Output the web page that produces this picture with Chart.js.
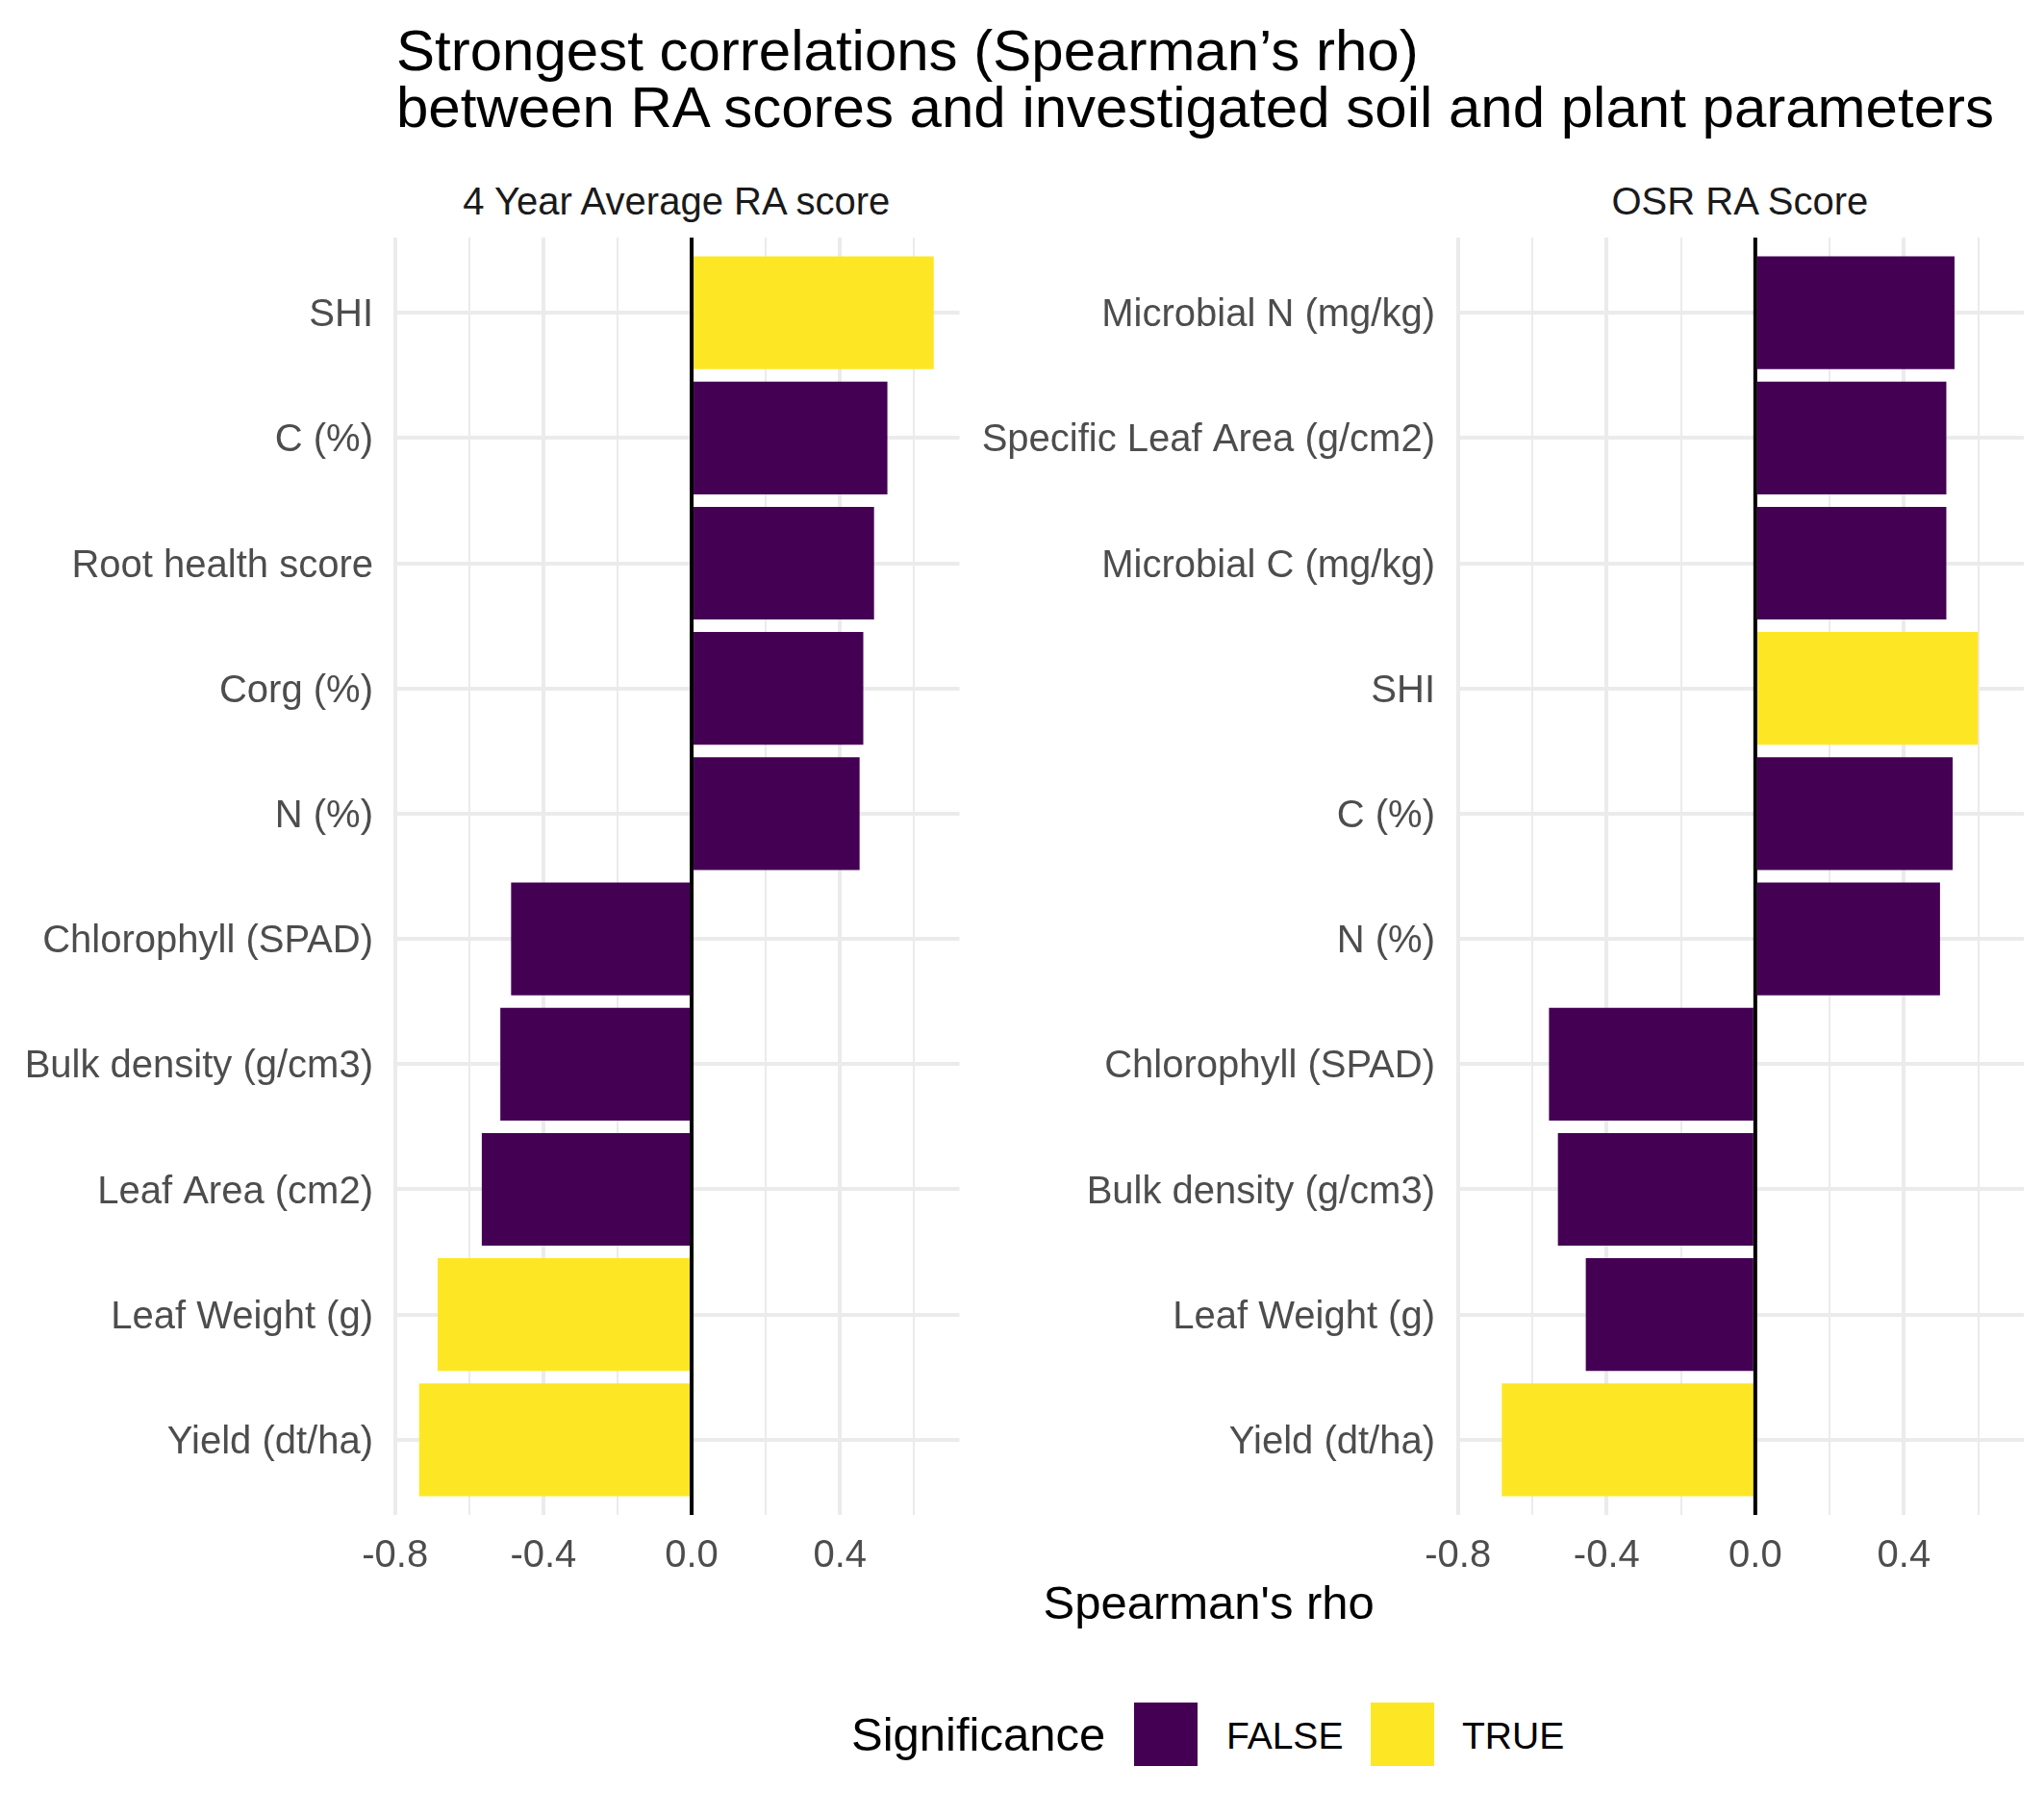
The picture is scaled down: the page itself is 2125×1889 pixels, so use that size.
<!DOCTYPE html>
<html>
<head>
<meta charset="utf-8">
<script src="https://cdn.jsdelivr.net/npm/chart.js@4.4.1/dist/chart.umd.min.js"></script>
<style>
  html, body { margin:0; padding:0; background:#ffffff; }
  #page { position:relative; width:2125px; height:1889px; background:#ffffff; overflow:hidden;
          font-family:"Liberation Sans", Arial, sans-serif; }
  .txt { position:absolute; white-space:nowrap; line-height:1; }
  canvas { position:absolute; top:0; }
  .key { position:absolute; }
</style>
</head>
<body>
<div id="page">
  <div class="txt" id="t1" style="left:412px; top:23px; font-size:60px; color:#000;">Strongest correlations (Spearman’s rho)</div>
  <div class="txt" id="t2" style="left:412px; top:82px; font-size:60px; color:#000;">between RA scores and investigated soil and plant parameters</div>

  <div class="txt" id="s1" style="font-size:40px; color:#1A1A1A; top:189px;"></div>
  <div class="txt" id="s2" style="font-size:40px; color:#1A1A1A; top:189px;"></div>

  <canvas id="c1" width="1010" height="1700" style="left:0px; width:1010px; height:1700px;"></canvas>
  <canvas id="c2" width="1115" height="1700" style="left:1010px; width:1115px; height:1700px;"></canvas>

  <div class="txt" id="xtitle" style="font-size:49px; color:#000; top:1642px;">Spearman's rho</div>

  <div class="txt" style="left:885px; top:1779px; font-size:49px; color:#000;">Significance</div>
  <div class="key" id="k1" style="left:1179px; top:1770px; width:66px; height:66px;"></div>
  <div class="txt" id="l1" style="left:1275px; top:1785px; font-size:39px; color:#000;"></div>
  <div class="key" id="k2" style="left:1425px; top:1770px; width:66px; height:66px;"></div>
  <div class="txt" id="l2" style="left:1520px; top:1785px; font-size:39px; color:#000;"></div>
</div>
<script>
// ---------------- data ----------------
const facetTitles = ['4 Year Average RA score', 'OSR RA Score'];

const categoriesAvg = ['SHI', 'C (%)', 'Root health score', 'Corg (%)', 'N (%)',
  'Chlorophyll (SPAD)', 'Bulk density (g/cm3)', 'Leaf Area (cm2)', 'Leaf Weight (g)', 'Yield (dt/ha)'];
const rhoAvg = [0.653, 0.528, 0.492, 0.463, 0.453, -0.487, -0.516, -0.566, -0.685, -0.735];
const sigAvg = [true, false, false, false, false, false, false, false, true, true];

const categoriesOSR = ['Microbial N (mg/kg)', 'Specific Leaf Area (g/cm2)', 'Microbial C (mg/kg)', 'SHI', 'C (%)',
  'N (%)', 'Chlorophyll (SPAD)', 'Bulk density (g/cm3)', 'Leaf Weight (g)', 'Yield (dt/ha)'];
const rhoOSR = [0.536, 0.514, 0.514, 0.599, 0.531, 0.497, -0.555, -0.531, -0.456, -0.682];
const sigOSR = [false, false, false, true, false, false, false, false, false, true];

const xTickValues = [-0.8, -0.6, -0.4, -0.2, 0.0, 0.2, 0.4, 0.6];
const xTickLabels = ['-0.8', '', '-0.4', '', '0.0', '', '0.4', ''];
const xMajorTicks = [-0.8, -0.4, 0.0, 0.4];

const legendLabels = ['FALSE', 'TRUE'];
const sigColors = { 'FALSE': '#440154', 'TRUE': '#FDE725' };

// ---------------- layout / style ----------------
const FONT = '"Liberation Sans", Arial, sans-serif';
const all = rhoAvg.concat(rhoOSR);
const lo = Math.min(...all), hi = Math.max(...all);
const padX = 0.05 * (hi - lo);
const xMin = lo - padX, xMax = hi + padX;

const zeroLine = {
  id: 'zeroLine',
  afterDatasetsDraw(chart) {
    const { ctx, chartArea, scales } = chart;
    const px = scales.x.getPixelForValue(0);
    ctx.save();
    ctx.strokeStyle = '#000000';
    ctx.lineWidth = 4;
    ctx.beginPath();
    ctx.moveTo(px, chartArea.top);
    ctx.lineTo(px, chartArea.bottom);
    ctx.stroke();
    ctx.restore();
  }
};

function isMajor(v) { return xMajorTicks.some(m => Math.abs(m - v) < 1e-6); }

function makeChart(id, cats, vals, sig, axisWidth, padRight, labelPad) {
  const ctx = document.getElementById(id).getContext('2d');
  return new Chart(ctx, {
    type: 'bar',
    data: {
      datasets: [{
        data: vals.map((v, i) => ({ x: v, y: i })),
        backgroundColor: sig.map(s => sigColors[s ? 'TRUE' : 'FALSE']),
        borderWidth: 0,
        categoryPercentage: 0.9,
        barPercentage: 1.0
      }]
    },
    options: {
      indexAxis: 'y',
      responsive: false,
      animation: false,
      devicePixelRatio: 1,
      layout: { padding: { top: 247, right: padRight, bottom: 0, left: 0 } },
      plugins: { legend: { display: false }, tooltip: { enabled: false } },
      scales: {
        x: {
          type: 'linear',
          min: xMin, max: xMax,
          offset: false,
          afterBuildTicks: s => { s.ticks = xTickValues.map(v => ({ value: v })); },
          afterFit: s => { s.height = 125; },
          grid: {
            color: '#EBEBEB',
            offset: false,
            lineWidth: c => (c.tick && isMajor(c.tick.value)) ? 4 : 2,
            drawTicks: false
          },
          border: { display: false },
          ticks: {
            autoSkip: false, maxRotation: 0, minRotation: 0, padding: 19,
            color: '#4D4D4D',
            font: { family: FONT, size: 40, lineHeight: 1.2 },
            callback: (v) => {
              const k = xTickValues.findIndex(t => Math.abs(t - v) < 1e-6);
              return k >= 0 ? xTickLabels[k] : '';
            }
          }
        },
        y: {
          type: 'linear',
          reverse: true,
          offset: false,
          min: -0.6, max: cats.length - 1 + 0.6,
          afterBuildTicks: s => { s.ticks = cats.map((c, i) => ({ value: i })); },
          afterFit: s => { s.width = axisWidth; },
          grid: { color: '#EBEBEB', lineWidth: 4, drawTicks: false, offset: false },
          border: { display: false },
          ticks: {
            autoSkip: false, padding: labelPad, labelOffset: 3,
            color: '#4D4D4D',
            font: { family: FONT, size: 40, lineHeight: 1.2 },
            callback: (v) => cats[Math.round(v)] ?? ''
          }
        }
      }
    },
    plugins: [zeroLine]
  });
}

const ch1 = makeChart('c1', categoriesAvg, rhoAvg, sigAvg, 409, 12.5, 21);
const ch2 = makeChart('c2', categoriesOSR, rhoOSR, sigOSR, 504, 21, 22);

// strip titles, axis title and legend as real text, centred on the panels
function centerOn(el, cx) {
  el.style.left = (cx - el.offsetWidth / 2) + 'px';
}
const s1 = document.getElementById('s1'), s2 = document.getElementById('s2');
s1.textContent = facetTitles[0];
s2.textContent = facetTitles[1];
const a1 = ch1.chartArea, a2 = ch2.chartArea;
centerOn(s1, (a1.left + a1.right) / 2);
centerOn(s2, 1010 + (a2.left + a2.right) / 2);
centerOn(document.getElementById('xtitle'), (a1.left + 1010 + a2.right) / 2);

document.getElementById('k1').style.background = sigColors[legendLabels[0]];
document.getElementById('k2').style.background = sigColors[legendLabels[1]];
document.getElementById('l1').textContent = legendLabels[0];
document.getElementById('l2').textContent = legendLabels[1];
</script>
</body>
</html>
